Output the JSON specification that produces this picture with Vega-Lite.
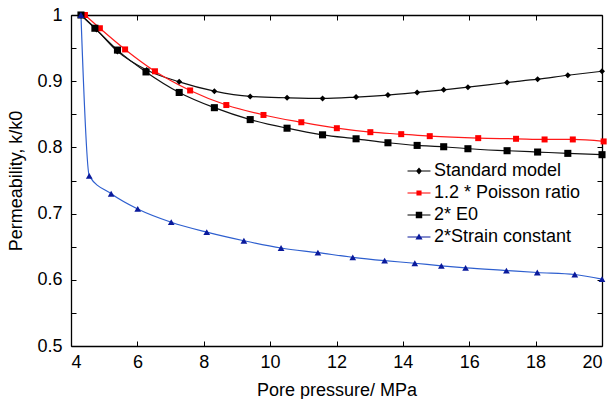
{
  "$schema": "https://vega.github.io/schema/vega-lite/v6.json",
  "autosize": {"type": "none"},
  "padding": {"left": 71, "top": 15, "right": 14, "bottom": 53},
  "width": 531,
  "height": 331,
  "background": "white",
  "config": {
    "view": {"stroke": null},
    "font": "Liberation Sans",
    "axis": {
      "grid": false,
      "domainColor": "#000000",
      "domainWidth": 1.3,
      "tickColor": "#000000",
      "tickWidth": 1,
      "tickSize": -5,
      "labelColor": "#000000",
      "titleColor": "#000000",
      "labelFont": "Liberation Sans",
      "titleFont": "Liberation Sans",
      "labelFontSize": 18,
      "titleFontSize": 18,
      "titleFontWeight": "normal"
    }
  },
  "data": {
    "values": [
      {"series": "Standard model", "pressure": 4.30, "k": 1.0},
      {"series": "Standard model", "pressure": 4.77, "k": 0.978},
      {"series": "Standard model", "pressure": 5.40, "k": 0.945},
      {"series": "Standard model", "pressure": 6.28, "k": 0.917},
      {"series": "Standard model", "pressure": 7.26, "k": 0.899},
      {"series": "Standard model", "pressure": 8.32, "k": 0.885},
      {"series": "Standard model", "pressure": 9.40, "k": 0.877},
      {"series": "Standard model", "pressure": 10.51, "k": 0.875},
      {"series": "Standard model", "pressure": 11.58, "k": 0.874},
      {"series": "Standard model", "pressure": 12.59, "k": 0.876},
      {"series": "Standard model", "pressure": 13.55, "k": 0.879},
      {"series": "Standard model", "pressure": 14.43, "k": 0.883},
      {"series": "Standard model", "pressure": 15.23, "k": 0.887},
      {"series": "Standard model", "pressure": 15.96, "k": 0.891},
      {"series": "Standard model", "pressure": 17.14, "k": 0.898},
      {"series": "Standard model", "pressure": 18.06, "k": 0.903},
      {"series": "Standard model", "pressure": 18.97, "k": 0.909},
      {"series": "Standard model", "pressure": 20.0, "k": 0.915},
      {"series": "1.2 * Poisson ratio", "pressure": 4.42, "k": 1.0},
      {"series": "1.2 * Poisson ratio", "pressure": 4.87, "k": 0.980},
      {"series": "1.2 * Poisson ratio", "pressure": 5.63, "k": 0.948},
      {"series": "1.2 * Poisson ratio", "pressure": 6.53, "k": 0.915},
      {"series": "1.2 * Poisson ratio", "pressure": 7.59, "k": 0.886},
      {"series": "1.2 * Poisson ratio", "pressure": 8.68, "k": 0.864},
      {"series": "1.2 * Poisson ratio", "pressure": 9.80, "k": 0.849},
      {"series": "1.2 * Poisson ratio", "pressure": 10.94, "k": 0.838},
      {"series": "1.2 * Poisson ratio", "pressure": 12.01, "k": 0.829},
      {"series": "1.2 * Poisson ratio", "pressure": 13.02, "k": 0.823},
      {"series": "1.2 * Poisson ratio", "pressure": 13.95, "k": 0.820},
      {"series": "1.2 * Poisson ratio", "pressure": 14.81, "k": 0.817},
      {"series": "1.2 * Poisson ratio", "pressure": 16.27, "k": 0.814},
      {"series": "1.2 * Poisson ratio", "pressure": 17.41, "k": 0.813},
      {"series": "1.2 * Poisson ratio", "pressure": 18.27, "k": 0.812},
      {"series": "1.2 * Poisson ratio", "pressure": 19.12, "k": 0.812},
      {"series": "1.2 * Poisson ratio", "pressure": 20.05, "k": 0.809},
      {"series": "2* E0", "pressure": 4.30, "k": 1.0},
      {"series": "2* E0", "pressure": 4.72, "k": 0.980},
      {"series": "2* E0", "pressure": 5.40, "k": 0.947},
      {"series": "2* E0", "pressure": 6.26, "k": 0.914},
      {"series": "2* E0", "pressure": 7.26, "k": 0.883},
      {"series": "2* E0", "pressure": 8.32, "k": 0.860},
      {"series": "2* E0", "pressure": 9.40, "k": 0.842},
      {"series": "2* E0", "pressure": 10.51, "k": 0.829},
      {"series": "2* E0", "pressure": 11.58, "k": 0.819},
      {"series": "2* E0", "pressure": 12.59, "k": 0.813},
      {"series": "2* E0", "pressure": 13.55, "k": 0.807},
      {"series": "2* E0", "pressure": 14.43, "k": 0.803},
      {"series": "2* E0", "pressure": 15.23, "k": 0.801},
      {"series": "2* E0", "pressure": 15.96, "k": 0.798},
      {"series": "2* E0", "pressure": 17.14, "k": 0.795},
      {"series": "2* E0", "pressure": 18.06, "k": 0.793},
      {"series": "2* E0", "pressure": 18.97, "k": 0.791},
      {"series": "2* E0", "pressure": 20.0, "k": 0.789},
      {"series": "2*Strain constant", "pressure": 4.30, "k": 1.0},
      {"series": "2*Strain constant", "pressure": 4.55, "k": 0.757},
      {"series": "2*Strain constant", "pressure": 5.21, "k": 0.730},
      {"series": "2*Strain constant", "pressure": 6.01, "k": 0.707},
      {"series": "2*Strain constant", "pressure": 7.02, "k": 0.687},
      {"series": "2*Strain constant", "pressure": 8.09, "k": 0.672},
      {"series": "2*Strain constant", "pressure": 9.21, "k": 0.659},
      {"series": "2*Strain constant", "pressure": 10.33, "k": 0.648},
      {"series": "2*Strain constant", "pressure": 11.44, "k": 0.641},
      {"series": "2*Strain constant", "pressure": 12.49, "k": 0.634},
      {"series": "2*Strain constant", "pressure": 13.45, "k": 0.629},
      {"series": "2*Strain constant", "pressure": 14.36, "k": 0.625},
      {"series": "2*Strain constant", "pressure": 15.16, "k": 0.621},
      {"series": "2*Strain constant", "pressure": 15.89, "k": 0.618},
      {"series": "2*Strain constant", "pressure": 17.12, "k": 0.614},
      {"series": "2*Strain constant", "pressure": 18.05, "k": 0.611},
      {"series": "2*Strain constant", "pressure": 19.18, "k": 0.608},
      {"series": "2*Strain constant", "pressure": 20.0, "k": 0.601}
    ]
  },
  "encoding": {
    "x": {"field": "pressure", "type": "quantitative", "scale": {"domain": [4, 20], "nice": false, "zero": false}, "axis": null},
    "y": {"field": "k", "type": "quantitative", "scale": {"domain": [0.5, 1], "nice": false, "zero": false}, "axis": null},
    "order": {"field": "pressure", "type": "quantitative"}
  },
  "layer": [
    {
      "transform": [{"filter": "datum.series == 'Standard model'"}],
      "mark": {"type": "line", "interpolate": "monotone", "strokeWidth": 1.2, "color": "#111111"},
      "encoding": {
        "x": {"field": "pressure", "type": "quantitative", "scale": {"domain": [4, 20], "nice": false, "zero": false},
          "axis": {"orient": "bottom", "values": [4, 6, 8, 10, 12, 14, 16, 18, 20], "labelPadding": 12, "title": "Pore pressure/ MPa", "titlePadding": 10}},
        "y": {"field": "k", "type": "quantitative", "scale": {"domain": [0.5, 1], "nice": false, "zero": false},
          "axis": {"orient": "left", "values": [0.5, 0.55, 0.6, 0.65, 0.7, 0.75, 0.8, 0.85, 0.9, 0.95, 1], "labelExpr": "round(datum.value*20)%2==0 ? format(datum.value, '.1~f') : ''", "labelPadding": 14, "title": "Permeability, k/k0", "titlePadding": 11}}
      }
    },
    {
      "transform": [{"filter": "datum.series == '1.2 * Poisson ratio'"}],
      "mark": {"type": "line", "interpolate": "monotone", "strokeWidth": 1.2, "color": "#ff1a1a"}
    },
    {
      "transform": [{"filter": "datum.series == '2* E0'"}],
      "mark": {"type": "line", "interpolate": "monotone", "strokeWidth": 1.2, "color": "#111111"}
    },
    {
      "transform": [{"filter": "datum.series == '2*Strain constant'"}],
      "mark": {"type": "line", "interpolate": "monotone", "strokeWidth": 1.2, "color": "#2e5fcf"}
    },
    {
      "transform": [{"filter": "datum.series == 'Standard model'"}],
      "mark": {"type": "point", "shape": "diamond", "filled": true, "size": 36, "color": "#000000", "opacity": 1}
    },
    {
      "transform": [{"filter": "datum.series == '1.2 * Poisson ratio'"}],
      "mark": {"type": "point", "shape": "square", "filled": true, "size": 36, "color": "#ff0000", "opacity": 1}
    },
    {
      "transform": [{"filter": "datum.series == '2* E0'"}],
      "mark": {"type": "point", "shape": "square", "filled": true, "size": 50, "color": "#000000", "opacity": 1}
    },
    {
      "transform": [{"filter": "datum.series == '2*Strain constant'"}],
      "mark": {"type": "point", "shape": "triangle-up", "filled": true, "size": 45, "color": "#0a1a9c", "opacity": 1}
    },
    {
      "mark": {"type": "point", "filled": true, "size": 0, "strokeWidth": 0},
      "encoding": {
        "x": {"field": "pressure", "type": "quantitative", "scale": {"domain": [4, 20], "nice": false, "zero": false},
          "axis": {"orient": "top", "values": [4, 6, 8, 10, 12, 14, 16, 18, 20], "labels": false, "title": null}},
        "y": {"field": "k", "type": "quantitative", "scale": {"domain": [0.5, 1], "nice": false, "zero": false},
          "axis": {"orient": "right", "values": [0.5, 0.55, 0.6, 0.65, 0.7, 0.75, 0.8, 0.85, 0.9, 0.95, 1], "labels": false, "title": null}},
        "color": {"field": "series", "type": "nominal",
          "scale": {"domain": ["Standard model", "1.2 * Poisson ratio", "2* E0", "2*Strain constant"], "range": ["#000000", "#ff0000", "#000000", "#0a1a9c"]},
          "legend": {"orient": "none", "legendX": 339, "legendY": 147, "title": null, "symbolSize": 289, "labelFontSize": 18, "labelFont": "Liberation Sans", "labelColor": "#000000", "labelOffset": 6, "rowPadding": 4, "padding": 0, "symbolOpacity": 1, "symbolStrokeWidth": 0}},
        "shape": {"field": "series", "type": "nominal",
          "scale": {"domain": ["Standard model", "1.2 * Poisson ratio", "2* E0", "2*Strain constant"],
            "range": [
              "M-1.35,-0.07H1.35V0.07H-1.35Z M0,-0.41L0.35,0L0,0.41L-0.35,0Z",
              "M-1.35,-0.07H1.35V0.07H-1.35Z M-0.3,-0.3H0.3V0.3H-0.3Z",
              "M-1.35,-0.07H1.35V0.07H-1.35Z M-0.38,-0.38H0.38V0.38H-0.38Z",
              "M-1.35,-0.07H1.35V0.07H-1.35Z M0,-0.42L0.42,0.3H-0.42Z"
            ]},
          "legend": {"orient": "none", "legendX": 339, "legendY": 147, "title": null, "symbolSize": 289, "labelFontSize": 18, "labelFont": "Liberation Sans", "labelColor": "#000000", "labelOffset": 6, "rowPadding": 4, "padding": 0, "symbolOpacity": 1, "symbolStrokeWidth": 0}}
      }
    }
  ]
}
